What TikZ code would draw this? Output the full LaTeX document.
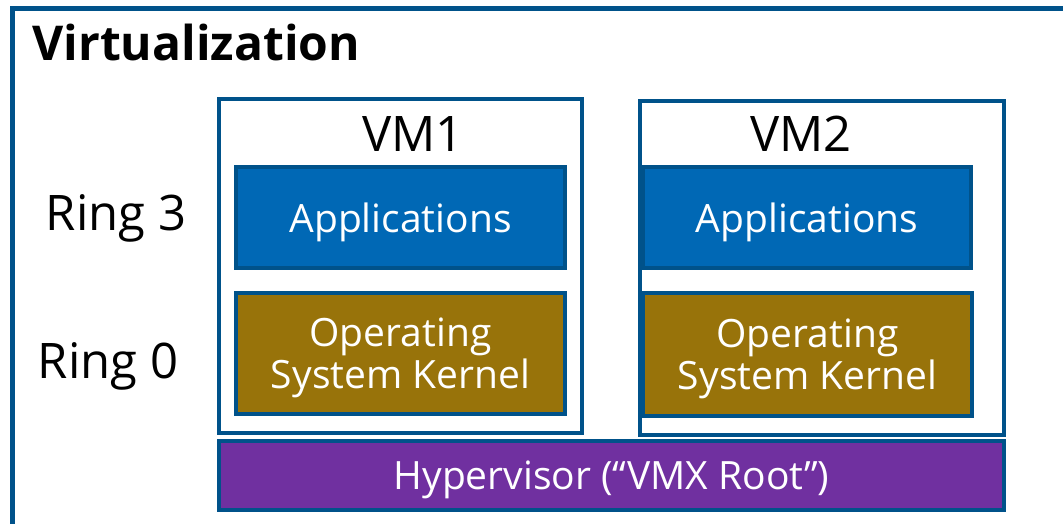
\documentclass[tikz,border=0pt]{standalone}
\usepackage{fontspec}
\setmainfont{Open Sans}
\definecolor{bordr}{HTML}{00528A}
\definecolor{appblue}{HTML}{0068B5}
\definecolor{osgold}{HTML}{98730A}
\definecolor{hvpurple}{HTML}{7030A0}
\begin{document}
\begin{tikzpicture}[x=1pt,y=-1pt,
  vmbox/.style={draw=bordr,line width=4pt,fill=white},
  layer/.style={draw=bordr,line width=4pt,text=white,align=center,text depth=0pt,font=\fontsize{39}{42}\selectfont},
  lbl/.style={font=\fontsize{49}{54}\selectfont,text=black}]
\useasboundingbox (0,0) rectangle (1063,523);
\begin{scope}
\clip (0,0) rectangle (1063,523);
\draw[draw=bordr,line width=5pt] (12,8) rectangle (1075,540);
\end{scope}
\node[anchor=base west,font=\fontsize{48}{54}\selectfont\bfseries] (title) at (29,60) {Virtualization};
\draw[vmbox] (219,99) rectangle (582,433);
\draw[vmbox] (640,101) rectangle (1004,435);
\coordinate (vm1c) at (413,134);
\coordinate (vm2c) at (801,134);
\node[lbl] (vm1) at (vm1c) {VM1};
\node[lbl] (vm2) at (vm2c) {VM2};
\node[lbl] (r3) at (116,218) {Ring 3};
\node[lbl] (r0) at (108,366) {Ring 0};
\node[layer,fill=appblue,minimum width=329pt,minimum height=101pt] (app1) at (400.5,217.5) {Applications};
\node[layer,fill=appblue,minimum width=328pt,minimum height=101pt] (app2) at (807,217.5) {Applications};
\node[layer,fill=osgold,minimum width=329pt,minimum height=121pt] (os1) at (400.5,353.5) {Operating\\System Kernel};
\node[layer,fill=osgold,minimum width=329pt,minimum height=123pt] (os2) at (807.5,354) {Operating\\System Kernel};
\node[layer,fill=hvpurple,minimum width=785pt,minimum height=69pt] (hv) at (611.5,475.5) {Hypervisor (“VMX Root”)};
\end{tikzpicture}
\end{document}
